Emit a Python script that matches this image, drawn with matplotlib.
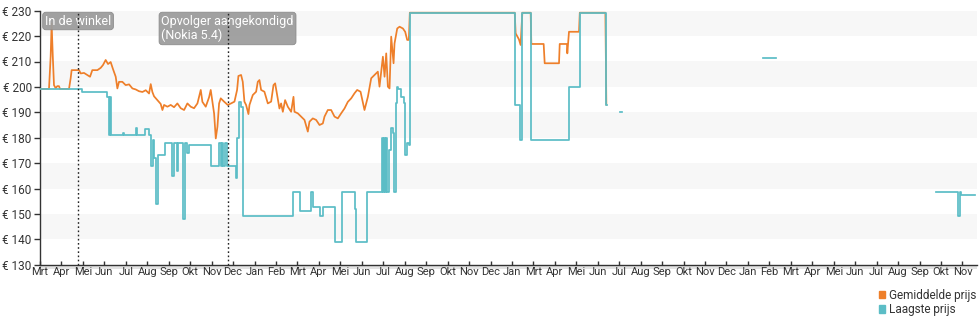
import numpy as np
import matplotlib
matplotlib.use("Agg")
import matplotlib.pyplot as plt
import matplotlib.dates as mdates
from matplotlib.patches import Patch, Rectangle
from matplotlib.transforms import blended_transform_factory

plt.rcParams['font.family'] = ['Roboto', 'DejaVu Sans']

# ---------------- data ----------------
start_date = '2020-03-19'          # first x tick
tick_step_days = 31
tick_labels = ['Mrt', 'Apr', 'Mei', 'Jun', 'Jul', 'Aug', 'Sep', 'Okt', 'Nov', 'Dec', 'Jan', 'Feb',
               'Mrt', 'Apr', 'Mei', 'Jun', 'Jul', 'Aug', 'Sep', 'Okt', 'Nov', 'Dec', 'Jan',
               'Mrt', 'Apr', 'Mei', 'Jun', 'Jul', 'Aug', 'Sep', 'Okt', 'Nov', 'Dec', 'Jan', 'Feb',
               'Mrt', 'Apr', 'Mei', 'Jun', 'Jul', 'Aug', 'Sep', 'Okt', 'Nov']
x_span_days = 1354

# Gemiddelde prijs (days since start_date, euro)
avg_days = [0, 13, 15.4, 16.8, 18.5, 20.2, 22.6, 25, 27.4, 28.9, 41.9, 44.3, 45.7, 56.4, 58.8, 63.6,
            68.4, 72.3, 75.6, 82.9, 87.7, 91, 94.9, 98.3, 102.1, 105.5, 109.4, 111.8, 114.2, 119,
            123.8, 128.7, 133.5, 138.3, 143.1, 148, 152.8, 157.6, 160, 162.4, 164.8, 169.6, 174.4,
            176.9, 179.3, 184.1, 188.9, 193.7, 198.5, 203.4, 208.2, 213, 217.8, 222.6, 227.5,
            232.3, 234.7, 239.5, 244.3, 246.7, 249.2, 251.6, 254, 256.4, 258.8, 261.2, 266,
            271.3, 276.1, 281, 284.8, 286.7, 290.6, 293, 295.4, 297.8, 301.2, 302.7, 307.5, 312.3,
            314.7, 317.1, 319.5, 324.3, 329.2, 334, 337.4, 339.8, 342.7, 346, 348.4, 350.9, 354.2,
            358.1, 362.9, 366.3, 367.7, 372.5, 377.4, 382.2, 387, 389.4, 394.2, 399, 403.9, 408.7,
            411.1, 415.9, 420.7, 425.6, 430.4, 435.2, 440, 444.8, 449.7, 454.5, 458.3, 463.2,
            468.9, 473.8, 478.6, 483.4, 488.2, 490.6, 495.5, 497.9, 500.3, 502.7, 505.1, 507.5,
            510.9, 512.3, 516.2, 519.6, 524.4, 527.7, 530.6, 533, 534.4, 686, 687.3, 692.1, 694.5,
            697, 709, 710, 727.8, 729.3, 750, 751, 761.5, 762, 763, 764.4, 778.9, 780, 817, 818.4]
avg_vals = [199.2, 199.2, 212, 225, 212, 200.7, 199.5, 200.3, 200.3, 199.2, 199.2, 203.4, 206.6,
            206.6, 205.3, 205.5, 204.7, 204, 206.6, 206.6, 207.5, 208.6, 210.6, 209, 209.8, 207,
            204, 199.4, 202, 202, 200.7, 201, 199.4, 199, 198.3, 198, 198.7, 197.4, 201.1, 198,
            196.3, 194.8, 193.3, 190.9, 192.9, 192.2, 192.9, 192, 193.5, 191.6, 190.9, 193.5,
            192.2, 191.6, 193.5, 198.8, 194.1, 192.2, 195.9, 198.8, 194.1, 189.5, 179.7, 184.3,
            193.5, 195.5, 194.2, 192.9, 193.5, 194.2, 198.8, 204.3, 204.7, 202, 194.2, 192.9,
            189.3, 192.9, 196.8, 198.1, 202, 202.7, 198.8, 198.1, 193.5, 194.2, 200.7, 201.4,
            196.8, 191.5, 193.5, 190.2, 194.8, 192.2, 190.2, 196.1, 190.2, 189.6, 188.3, 187,
            182.4, 186.3, 187.6, 187, 185, 185.6, 188.3, 190.9, 190.9, 188.3, 187.6, 189.6, 191.5,
            194.1, 195.5, 197.5, 198.8, 198.1, 190.9, 196.1, 203.4, 204.7, 206, 200.1, 211.9, 204,
            213.2, 200.1, 199.4, 219.8, 209.3, 217.1, 223, 223.7, 223, 221.7, 218.5, 218.5, 229.2,
            229.2, 221.1, 218.7, 216.5, 229.2, 229.2, 216.9, 216.9, 209.3, 209.3, 216.9, 216.9,
            213.2, 216.9, 221.7, 221.7, 229.2, 229.2, 193]

# Laagste prijs (step changes; NaN = no offers)
low_days = [0, 61, 97, 99, 101, 103, 120, 122, 139, 140, 152, 158, 160, 163, 165, 168, 170, 181,
            189, 191, 193, 198, 200, 207, 209, 213, 215, 247, 259, 261, 263, 265, 267, 270, 283,
            285, 288, 291, 293, 294, 365, 375, 391, 394, 405, 409, 426, 437, 455, 457, 473, 494,
            495, 497, 499, 500, 502, 505, 507, 510, 512, 514, 516, 518, 522, 526, 528, 530, 533,
            534, 686, 693, 697, 709, 764, 780, 818, 819, 838, 841, 1044.5, 1062, 1063, 1295,
            1327, 1329, 1331, 1351]
low_vals = [199, 198, 196, 181, 196, 181, 182, 181, 184, 181, 183.5, 181, 169, 179, 172, 154, 173,
            178, 178, 165, 178, 167, 178, 148, 178, 174, 177, 169, 178, 169, 178, 169, 178, 169,
            164, 180, 194, 192, 178, 149, 158.7, 151, 158.7, 152.8, 149, 152.8, 139, 158.7, 152,
            139, 158.7, 180, 158.7, 180, 158.7, 180, 158.7, 175, 184, 182, 158.7, 193.5, 200, 199,
            196, 193.5, 173, 178, 177, 229.2, 193, 179, 229.2, 179, 200, 229.2, 193, np.nan, 190,
            np.nan, 211.5, 211.5, np.nan, 158.7, 149, 158.5, 157.5, 157.5]

event_dates = ['2020-05-13', '2020-12-15']
event_labels = ['In de winkel', 'Opvolger aangekondigd\n(Nokia 5.4)']

series_names = ['Gemiddelde prijs', 'Laagste prijs']
y_min, y_max, y_step = 130, 230, 10

# ---------------- styling ----------------
c_avg = '#ee7f2a'
c_low = '#5bbdc6'
txt = '#333333'

fig = plt.figure(figsize=(9.8, 3.25), dpi=100)
ax = fig.add_axes([40 / 980, (325 - 264.7) / 325, (977 - 40) / 980, (264.7 - 10.7) / 325])

base = mdates.date2num(np.datetime64(start_date))
ax.set_xlim(base, base + x_span_days)
ax.set_ylim(y_min, y_max)

# alternating background bands
for lo in range(y_min + 10, y_max, 20):
    ax.axhspan(lo, lo + 10, color='#f7f7f7', lw=0, zorder=0)

ax.plot(base + np.array(avg_days), avg_vals, color=c_avg, lw=1.25, zorder=3)
ax.plot(base + np.array(low_days), low_vals, color=c_low, lw=1.25, drawstyle='steps-post', zorder=4)

trans = blended_transform_factory(ax.transData, ax.transAxes)
for d, lab in zip(event_dates, event_labels):
    xd = mdates.date2num(np.datetime64(d))
    ax.axvline(xd, color='#222222', ls=(0, (1.2, 1.8)), lw=1.0, zorder=6)
    ax.text(xd, 0.985, lab, transform=trans, ha='center', va='top', color='white', fontsize=9,
            linespacing=1.15, multialignment='left', zorder=5,
            bbox=dict(boxstyle='round,pad=0.18,rounding_size=0.25', fc='#9d9d9d', ec='#8a8a8a',
                      lw=0.6, alpha=0.95))

ticks = base + tick_step_days * np.arange(len(tick_labels))
ax.set_xticks(ticks)
ax.set_xticklabels(tick_labels)
yt = np.arange(y_min, y_max + 1, y_step)
ax.set_yticks(yt)
ax.set_yticklabels([f'€ {v}' for v in yt])

ax.tick_params(axis='x', direction='in', length=3, width=1, pad=1.5, labelsize=8, colors=txt)
ax.tick_params(axis='y', direction='out', length=4, width=1, pad=2, labelsize=8.5, colors=txt)
for s in ['top', 'right']:
    ax.spines[s].set_visible(False)
for s in ['left', 'bottom']:
    ax.spines[s].set_color(txt)
    ax.spines[s].set_linewidth(1)
ax.spines['bottom'].set_zorder(7)

ax.add_patch(Rectangle((0, -0.016), 1.0, 0.016, transform=ax.transAxes, color='#e3e3e3',
                       clip_on=False, zorder=1, lw=0))

handles = [Patch(color=c_avg), Patch(color=c_low)]
fig.legend(handles, series_names, loc='upper right', bbox_to_anchor=(976 / 980, 1 - 289 / 325),
           frameon=False, fontsize=8.5, handlelength=0.55, handleheight=0.55, handletextpad=0.3,
           labelspacing=0.1, borderpad=0, borderaxespad=0, labelcolor=txt)

fig.savefig('out.png', dpi=100)
